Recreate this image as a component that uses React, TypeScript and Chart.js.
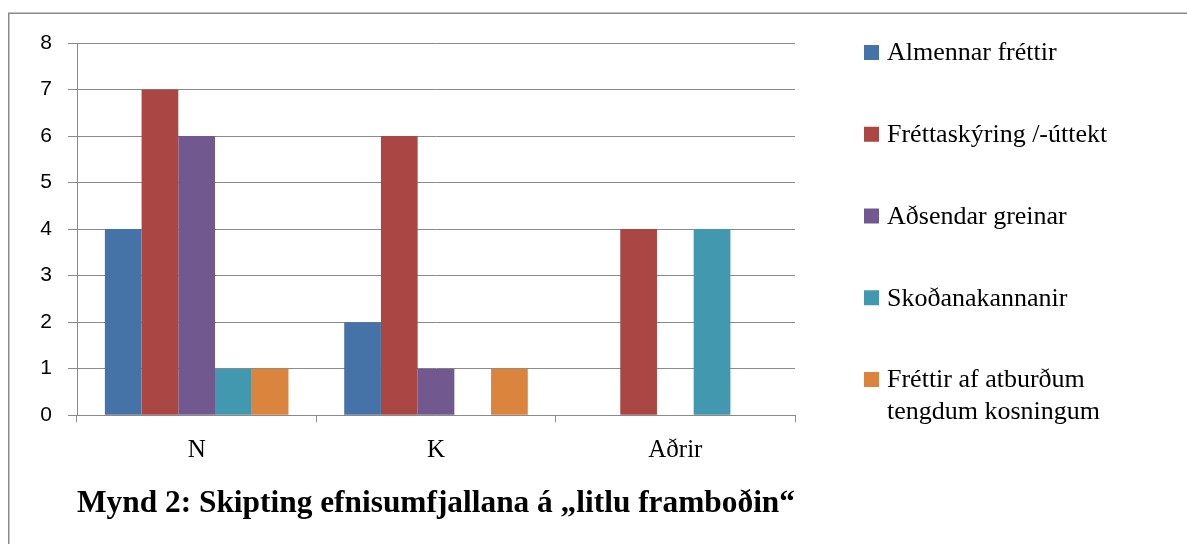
import React, { useEffect, useRef } from "react";
import { Chart, registerables } from "chart.js";

Chart.register(...registerables);

const categories = ["N", "K", "Aðrir"];
const seriesNames = [
  "Almennar fréttir",
  "Fréttaskýring /-úttekt",
  "Aðsendar greinar",
  "Skoðanakannanir",
  "Fréttir af atburðum tengdum kosningum",
];
const almennar = [4, 2, 0];
const frettaskyring = [7, 6, 4];
const adsendar = [6, 1, 0];
const skodanakannanir = [1, 0, 4];
const atburdir = [1, 1, 0];
const seriesColors = ["#4572A7", "#AA4643", "#71588F", "#4198AF", "#DB843D"];
const yTicks = [0, 1, 2, 3, 4, 5, 6, 7, 8];
const titleText = "Mynd 2: Skipting efnisumfjallana á „litlu framboðin“";

const GRID = "#8a8a8a";

const framePlugin = {
  id: "frame",
  beforeDraw(chart: any) {
    const ctx = chart.ctx;
    ctx.save();
    ctx.strokeStyle = GRID;
    ctx.lineWidth = 1.5;
    ctx.beginPath();
    ctx.moveTo(8.75, chart.height);
    ctx.lineTo(8.75, 13.25);
    ctx.lineTo(chart.width, 13.25);
    ctx.stroke();
    ctx.restore();
  },
};

function wrapText(ctx: CanvasRenderingContext2D, text: string, maxW: number): string[] {
  const words = text.split(" ");
  const lines: string[] = [];
  let cur = "";
  for (const w of words) {
    const t = cur ? cur + " " + w : w;
    if (ctx.measureText(t).width > maxW && cur) {
      lines.push(cur);
      cur = w;
    } else cur = t;
  }
  if (cur) lines.push(cur);
  return lines;
}

const legendPlugin = {
  id: "sideLegend",
  afterDraw(chart: any) {
    const ctx = chart.ctx as CanvasRenderingContext2D;
    const area = chart.chartArea;
    const sqX = area.right + 69;
    const txtX = area.right + 92;
    const startY = area.top + 9.5;
    const step = 81.75;
    const box = 15;
    ctx.save();
    ctx.font = "26px 'Liberation Serif', 'Times New Roman', serif";
    ctx.textBaseline = "middle";
    ctx.textAlign = "left";
    chart.data.datasets.forEach((ds: any, i: number) => {
      const cy = startY + step * i;
      ctx.fillStyle = ds.backgroundColor;
      ctx.fillRect(sqX, cy - box / 2, box, box);
      ctx.fillStyle = "#000";
      const lines = wrapText(ctx, ds.label, 250);
      lines.forEach((ln, j) => {
        ctx.fillText(ln, txtX, cy + 1 + j * 32);
      });
    });
    ctx.restore();
  },
};

export default function App() {
  const ref = useRef<HTMLCanvasElement | null>(null);
  useEffect(() => {
    if (!ref.current) return;
    const seriesValues = [almennar, frettaskyring, adsendar, skodanakannanir, atburdir];
    const chart = new Chart(ref.current, {
      type: "bar",
      data: {
        labels: categories,
        datasets: seriesNames.map((name, i) => ({
          label: name,
          data: seriesValues[i],
          backgroundColor: seriesColors[i],
          borderWidth: 0,
          categoryPercentage: 0.767,
          barPercentage: 1,
        })),
      },
      options: {
        responsive: false,
        animation: false,
        layout: { padding: { top: 43, right: 392, bottom: 21.4, left: 0 } },
        plugins: {
          legend: { display: false },
          tooltip: { enabled: false },
          title: {
            display: true,
            text: titleText,
            position: "bottom",
            fullSize: false,
            align: "center",
            color: "#000",
            font: { family: "'Liberation Serif', 'Times New Roman', serif", size: 32, weight: "bold", lineHeight: 1.2 },
            padding: { top: 14, bottom: 0 },
          },
        },
        scales: {
          x: {
            grid: {
              offset: true,
              drawOnChartArea: false,
              drawTicks: true,
              tickLength: 7,
              color: GRID,
              lineWidth: 1,
            },
            border: { display: true, color: GRID, width: 1 },
            ticks: {
              color: "#000",
              padding: 13,
              font: { family: "'Liberation Serif', 'Times New Roman', serif", size: 25 },
            },
            afterFit(scale: any) {
              scale.height = 55;
            },
          },
          y: {
            min: 0,
            max: 8,
            afterBuildTicks(scale: any) {
              scale.ticks = yTicks.map((v) => ({ value: v }));
            },
            grid: { color: GRID, lineWidth: 1, tickLength: 9 },
            border: { display: true, color: GRID, width: 1 },
            ticks: {
              color: "#000",
              padding: 16,
              font: { family: "'Liberation Sans', Arial, sans-serif", size: 21 },
            },
            afterFit(scale: any) {
              scale.width = 77;
            },
          },
        },
      },
      plugins: [framePlugin, legendPlugin],
    });
    return () => chart.destroy();
  }, []);
  return (
    <div style={{ position: "fixed", left: 0, top: 0, width: 1187, height: 544, background: "#fff" }}>
      <canvas ref={ref} width={1187} height={544} style={{ width: 1187, height: 544, display: "block" }} />
    </div>
  );
}
